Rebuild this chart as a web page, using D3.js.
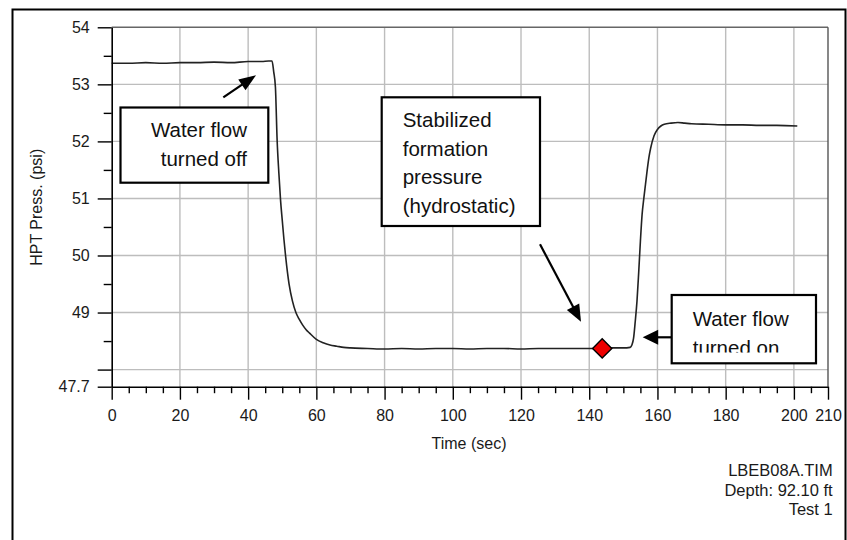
<!DOCTYPE html>
<html><head><meta charset="utf-8">
<script src="https://cdn.jsdelivr.net/npm/d3@7"></script>
<style>html,body{margin:0;padding:0;background:#fff;} svg{display:block;font-family:"Liberation Sans",Arial,sans-serif;}</style>
</head><body><svg id="c" width="847" height="540"></svg>
<script>
// ---- data ----
const time = [0,5,10,15,20,25,30,35,40,44,46,47,47.5,48,48.5,49,49.5,50,50.5,51,52,53,54,55,56,57,58,60,62,64,66,68,70,75,80,85,90,95,100,105,110,115,120,125,130,135,140,145,150,152,152.5,153,153.5,154,154.5,155,155.5,156,156.5,157,157.5,158,159,160,161,162,164,166,168,170,175,180,185,190,195,201];
const pressure = [53.37,53.37,53.38,53.37,53.38,53.38,53.39,53.38,53.40,53.40,53.41,53.41,53.22,52.95,52.02,51.45,50.97,50.62,50.28,49.98,49.5,49.2,49.0,48.88,48.78,48.7,48.64,48.53,48.47,48.43,48.41,48.39,48.38,48.37,48.36,48.37,48.36,48.37,48.37,48.36,48.37,48.37,48.36,48.37,48.37,48.37,48.37,48.38,48.38,48.39,48.43,48.55,48.85,49.2,49.7,50.25,50.72,51.0,51.25,51.5,51.72,51.88,52.1,52.21,52.27,52.3,52.32,52.33,52.32,52.31,52.30,52.29,52.29,52.28,52.28,52.27];
const markerTime = [143.8];
const markerPressure = [48.37];
const xMajorTicks = [0,20,40,60,80,100,120,140,160,180,200,210];
const xMinorTicks = d3.range(5,210,5).filter(v => v % 20 !== 0);
const yMajorTicks = [47.7,48,49,50,51,52,53,54];
const yTickLabels = ["47.7","","49","50","51","52","53","54"];
const yMinorTicks = [48.5,49.5,50.5,51.5,52.5,53.5];
const xGrid = [20,40,60,80,100,120,140,160,180,200];
const yGrid = [48,49,50,51,52,53];
const xTitle = "Time (sec)";
const yTitle = "HPT Press. (psi)";
const footer = ["LBEB08A.TIM","Depth: 92.10 ft","Test 1"];
const note1 = ["Water flow","turned off"];
const note2 = ["Stabilized","formation","pressure","(hydrostatic)"];
const note3 = ["Water flow","turned on"];

// ---- layout ----
const svg = d3.select("#c");
const x = d3.scaleLinear().domain([0,210]).range([111.7,828]);
const y = d3.scaleLinear().domain([47.7,54]).range([386.7,27.3]);
const X0 = x(0), Y0 = y(47.7);

svg.append("rect").attr("x",12.5).attr("y",9.5).attr("width",833).attr("height",620)
  .attr("fill","none").attr("stroke","#000").attr("stroke-width",2);

const g = svg.append("g");
// grid
g.selectAll(".vg").data(xGrid).join("line")
  .attr("x1",d=>x(d)).attr("x2",d=>x(d)).attr("y1",y(54)).attr("y2",Y0)
  .attr("stroke","#bdbdbd").attr("stroke-width",1.4);
g.selectAll(".hg").data(yGrid).join("line")
  .attr("x1",X0).attr("x2",x(210)).attr("y1",d=>y(d)).attr("y2",d=>y(d))
  .attr("stroke","#bdbdbd").attr("stroke-width",1.4);
// frame top/right
g.append("line").attr("x1",X0).attr("x2",x(210)).attr("y1",y(54)).attr("y2",y(54)).attr("stroke","#666").attr("stroke-width",1.4);
g.append("line").attr("x1",x(210)).attr("x2",x(210)).attr("y1",y(54)).attr("y2",Y0).attr("stroke","#555").attr("stroke-width",1.4);

// curve
const pts = time.map((t,i)=>[t,pressure[i]]);
g.append("path").datum(pts)
  .attr("d", d3.line().x(d=>x(d[0])).y(d=>y(d[1])).curve(d3.curveMonotoneX))
  .attr("fill","none").attr("stroke","#222").attr("stroke-width",1.6);

// marker
g.selectAll(".mk").data(markerTime.map((t,i)=>[t,markerPressure[i]])).join("path")
  .attr("d", d3.symbol(d3.symbolSquare, 185)())
  .attr("transform", d=>`translate(${x(d[0])},${y(d[1])}) rotate(45)`)
  .attr("fill","#ee0000").attr("stroke","#000").attr("stroke-width",1.4);

// axes
function styleAxis(sel){
  sel.selectAll("path.domain").attr("stroke","#000").attr("stroke-width",1.6);
  sel.selectAll(".tick line").attr("stroke","#000").attr("stroke-width",1.4);
  sel.selectAll("text").attr("fill","#1a1a1a").style("font-size","16px").style("font-family",'"Liberation Sans",Arial,sans-serif');
}
const yAx = svg.append("g").attr("transform",`translate(${X0},0)`)
  .call(d3.axisLeft(y).tickValues(yMajorTicks).tickSize(14).tickSizeOuter(0).tickPadding(8)
    .tickFormat((d,i)=>yTickLabels[i]));
styleAxis(yAx);
const yAxMin = svg.append("g").attr("transform",`translate(${X0},0)`)
  .call(d3.axisLeft(y).tickValues(yMinorTicks).tickSize(8).tickSizeOuter(0).tickFormat(""));
styleAxis(yAxMin); yAxMin.select("path.domain").remove();

const xAx = svg.append("g").attr("transform",`translate(0,${Y0})`)
  .call(d3.axisBottom(x).tickValues(xMajorTicks).tickSize(13).tickSizeOuter(0).tickPadding(10)
    .tickFormat(d3.format("d")));
styleAxis(xAx);
const xAxMin = svg.append("g").attr("transform",`translate(0,${Y0})`)
  .call(d3.axisBottom(x).tickValues(xMinorTicks).tickSize(6.5).tickSizeOuter(0).tickFormat(""));
styleAxis(xAxMin); xAxMin.select("path.domain").remove();

// titles
svg.append("text").attr("x",469).attr("y",449).attr("text-anchor","middle")
  .style("font-size","16px").attr("fill","#1a1a1a").text(xTitle);
svg.append("text").attr("transform","translate(41.7,207.3) rotate(-90)").attr("text-anchor","middle")
  .style("font-size","16px").attr("fill","#1a1a1a").text(yTitle);
svg.selectAll(".ft").data(footer).join("text")
  .attr("x",832.7).attr("y",(d,i)=>476+i*19.7).attr("text-anchor","end")
  .style("font-size","16.5px").attr("fill","#1a1a1a").text(d=>d);

// annotations
function box(x1,y1,x2,y2){
  svg.append("rect").attr("x",x1).attr("y",y1).attr("width",x2-x1).attr("height",y2-y1)
    .attr("fill","#fff").attr("stroke","#000").attr("stroke-width",2.2);
}
function lines(arr, tx, ty0, dy, anchor, clip){
  const t = svg.append("g");
  if (clip) t.attr("clip-path", clip);
  t.selectAll("text").data(arr).join("text")
    .attr("x",tx).attr("y",(d,i)=>ty0+i*dy).attr("text-anchor",anchor)
    .style("font-size","20.5px").attr("fill","#111").text(d=>d);
}
function arrow(x1,y1,x2,y2,len,hw){
  const dx=x2-x1, dy=y2-y1, L=Math.hypot(dx,dy), ux=dx/L, uy=dy/L;
  const bx=x2-ux*len, by=y2-uy*len;
  svg.append("line").attr("x1",x1).attr("y1",y1).attr("x2",bx+ux*2).attr("y2",by+uy*2)
    .attr("stroke","#000").attr("stroke-width",2.2);
  svg.append("path").attr("d",`M${x2},${y2}L${bx-uy*hw},${by+ux*hw}L${bx+uy*hw},${by-ux*hw}Z`).attr("fill","#000");
}
box(120.5,107.5,268.3,182.7);
lines(note1, 247, 136.7, 29.3, "end");
box(381.7,97.3,540,226);
lines(note2, 402.7, 126.7, 28.8, "start");
box(671.7,295,816,363.3);
svg.append("clipPath").attr("id","cl3").append("rect").attr("x",672).attr("y",296).attr("width",143).attr("height",56.5);
lines(note3, 692.7, 325.7, 29, "start", "url(#cl3)");

arrow(223.3,97.3,256,75.3,17,6.5);
arrow(540,244.3,581,321.7,17,7);
arrow(671.7,337.3,642.7,337.3,15.5,7.5);
</script></body></html>
